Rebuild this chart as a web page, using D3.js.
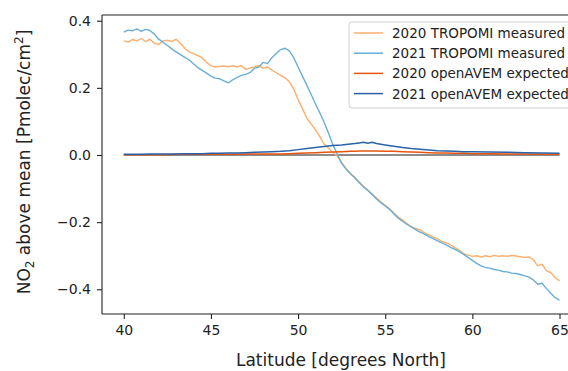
<!DOCTYPE html>
<html>
<head>
<meta charset="utf-8">
<script src="https://cdn.jsdelivr.net/npm/d3@7/dist/d3.min.js"></script>
<style>
  html, body { margin: 0; padding: 0; background: #fff; }
  svg { display: block; font-family: "DejaVu Sans", sans-serif; }
</style>
</head>
<body>
<svg id="chart" width="568" height="371"></svg>
<script>
// ---- data ----
const latFine = d3.range(40, 65.001, 0.25).map(v => +v.toFixed(2));

const tropomi2020 = [
  0.340, 0.336, 0.344, 0.340, 0.347, 0.338, 0.345, 0.333, 0.329, 0.340,
  0.342, 0.338, 0.345, 0.333, 0.318, 0.307, 0.302, 0.296, 0.289, 0.276,
  0.266, 0.262, 0.264, 0.265, 0.263, 0.266, 0.262, 0.266, 0.255, 0.259,
  0.262, 0.266, 0.258, 0.262, 0.253, 0.245, 0.237, 0.230, 0.218, 0.196,
  0.165, 0.138, 0.110, 0.092, 0.075, 0.055, 0.032, 0.020, 0.008, -0.004,
  -0.022, -0.040, -0.055, -0.066, -0.080, -0.093, -0.104, -0.116, -0.128, -0.139,
  -0.150, -0.160, -0.173, -0.185, -0.194, -0.204, -0.214, -0.219, -0.223, -0.232,
  -0.238, -0.244, -0.250, -0.257, -0.262, -0.268, -0.276, -0.284, -0.294, -0.298,
  -0.302, -0.300, -0.304, -0.300, -0.303, -0.299, -0.302, -0.300, -0.302, -0.299,
  -0.301, -0.303, -0.305, -0.304, -0.312, -0.330, -0.325, -0.345, -0.350, -0.365,
  -0.375
];

const tropomi2021 = [
  0.366, 0.372, 0.370, 0.376, 0.368, 0.374, 0.371, 0.360, 0.345, 0.336,
  0.326, 0.316, 0.307, 0.299, 0.291, 0.283, 0.272, 0.260, 0.252, 0.244,
  0.235, 0.229, 0.227, 0.221, 0.215, 0.224, 0.231, 0.237, 0.240, 0.246,
  0.258, 0.262, 0.276, 0.272, 0.290, 0.303, 0.314, 0.318, 0.310, 0.290,
  0.262, 0.235, 0.208, 0.180, 0.152, 0.125, 0.097, 0.065, 0.030, 0.003,
  -0.025, -0.042, -0.056, -0.068, -0.082, -0.095, -0.106, -0.118, -0.131, -0.142,
  -0.152, -0.162, -0.176, -0.188, -0.198, -0.207, -0.214, -0.222, -0.230, -0.236,
  -0.243, -0.249, -0.256, -0.262, -0.268, -0.275, -0.281, -0.288, -0.296, -0.305,
  -0.314, -0.323, -0.330, -0.335, -0.337, -0.341, -0.343, -0.347, -0.348, -0.352,
  -0.353, -0.356, -0.360, -0.364, -0.372, -0.385, -0.382, -0.398, -0.412, -0.425,
  -0.432
];

const latModel = [40, 40.5, 41, 41.5, 42, 42.5, 43, 43.5, 44, 44.5, 45, 45.5, 46, 46.5, 47, 47.5, 48, 48.5,
  49, 49.5, 50, 50.5, 51, 51.5, 52, 52.5, 53, 53.25, 53.5, 53.75, 54, 54.25, 54.5, 55, 55.5, 56, 56.5,
  57, 57.5, 58, 58.5, 59, 59.5, 60, 61, 62, 63, 64, 65];

const openavem2020 = [0.001, 0.001, 0.001, 0.001, 0.001, 0.001, 0.002, 0.002, 0.002, 0.002, 0.002, 0.002,
  0.002, 0.002, 0.003, 0.003, 0.003, 0.003, 0.003, 0.004, 0.005, 0.006, 0.007, 0.008, 0.009, 0.010,
  0.011, 0.011, 0.012, 0.012, 0.012, 0.012, 0.012, 0.011, 0.011, 0.010, 0.009, 0.008, 0.007, 0.006,
  0.006, 0.005, 0.005, 0.004, 0.004, 0.003, 0.003, 0.002, 0.002];

const openavem2021 = [0.002, 0.002, 0.002, 0.003, 0.003, 0.003, 0.003, 0.004, 0.004, 0.004, 0.005, 0.005,
  0.006, 0.006, 0.007, 0.008, 0.009, 0.010, 0.011, 0.013, 0.016, 0.019, 0.022, 0.025, 0.028, 0.030,
  0.033, 0.034, 0.036, 0.038, 0.035, 0.038, 0.034, 0.030, 0.026, 0.022, 0.019, 0.017, 0.015, 0.013,
  0.012, 0.011, 0.010, 0.010, 0.009, 0.008, 0.007, 0.006, 0.005];

const xTicks = [40, 45, 50, 55, 60, 65];
const yTicks = [-0.4, -0.2, 0.0, 0.2, 0.4];
const seriesNames = ["2020 TROPOMI measured", "2021 TROPOMI measured", "2020 openAVEM expected", "2021 openAVEM expected"];
const seriesColors = ["#fdae6b", "#6baed6", "#e6550d", "#2a62a8"];

// ---- chart ----
const svg = d3.select("#chart");
const x = d3.scaleLinear().domain([38.75, 66.25]).range([102, 581.3]);
const y = d3.scaleLinear().domain([-0.4736, 0.417]).range([314, 15]);

const series = [
  { lat: latFine, val: tropomi2020, w: 1.4 },
  { lat: latFine, val: tropomi2021, w: 1.4 },
  { lat: latModel, val: openavem2020, w: 1.5 },
  { lat: latModel, val: openavem2021, w: 1.5 },
];

const clip = svg.append("clipPath").attr("id", "plotclip")
  .append("rect").attr("x", 102).attr("y", 15).attr("width", 480).attr("height", 299);

const plot = svg.append("g").attr("clip-path", "url(#plotclip)");

// zero line
plot.append("line")
  .attr("x1", x(40)).attr("x2", x(65))
  .attr("y1", y(0)).attr("y2", y(0))
  .attr("stroke", "#666").attr("stroke-width", 1.5);

const line = d3.line().x(d => x(d[0])).y(d => y(d[1]));
series.forEach((s, i) => {
  plot.append("path")
    .datum(s.lat.map((l, j) => [l, s.val[j]]))
    .attr("fill", "none")
    .attr("stroke", seriesColors[i])
    .attr("stroke-width", s.w)
    .attr("stroke-linejoin", "round")
    .attr("d", line);
});

// axes
const fmtY = d => (d < 0 ? "\u2212" : "") + Math.abs(d).toFixed(1);
const xAxis = svg.append("g").attr("transform", "translate(0,314)")
  .call(d3.axisBottom(x).tickValues(xTicks).tickSize(5).tickPadding(6).tickFormat(d3.format("d")));
const yAxis = svg.append("g").attr("transform", "translate(102,0)")
  .call(d3.axisLeft(y).tickValues(yTicks).tickSize(5).tickPadding(6).tickFormat(fmtY));

[xAxis, yAxis].forEach(a => {
  a.selectAll("text").attr("font-family", "DejaVu Sans").attr("font-size", 14).attr("fill", "#222");
  a.selectAll("line").attr("stroke", "#222").attr("stroke-width", 1.1);
  a.select(".domain").remove();
});

// spines
svg.append("line").attr("x1", 102).attr("x2", 102).attr("y1", 15).attr("y2", 314)
  .attr("stroke", "#222").attr("stroke-width", 1.1);
svg.append("line").attr("x1", 102).attr("x2", 568).attr("y1", 314).attr("y2", 314)
  .attr("stroke", "#222").attr("stroke-width", 1.1);
svg.append("line").attr("x1", 102).attr("x2", 568).attr("y1", 15).attr("y2", 15)
  .attr("stroke", "#222").attr("stroke-width", 1.1);

// axis labels
svg.append("text")
  .attr("x", 341).attr("y", 366)
  .attr("text-anchor", "middle")
  .attr("font-size", 17).attr("fill", "#222")
  .text("Latitude [degrees North]");

const yl = svg.append("text")
  .attr("transform", "translate(30,162) rotate(-90)")
  .attr("text-anchor", "middle")
  .attr("font-size", 17).attr("fill", "#222");
yl.append("tspan").text("NO");
yl.append("tspan").attr("font-size", 12).attr("dy", 4).text("2");
yl.append("tspan").attr("dy", -4).text(" above mean [Pmolec/cm");
yl.append("tspan").attr("font-size", 12).attr("dy", -7).text("2");
yl.append("tspan").attr("dy", 7).text("]");

// legend
const lg = svg.append("g");
lg.append("rect")
  .attr("x", 349).attr("y", 22).attr("width", 240).attr("height", 86)
  .attr("rx", 3).attr("fill", "#fff").attr("fill-opacity", 0.85)
  .attr("stroke", "#d0d0d0").attr("stroke-width", 1);
seriesNames.forEach((n, i) => {
  const cy = 33 + i * 20.2;
  lg.append("line").attr("x1", 354).attr("x2", 383).attr("y1", cy).attr("y2", cy)
    .attr("stroke", seriesColors[i]).attr("stroke-width", 1.5);
  lg.append("text").attr("x", 392).attr("y", cy + 5)
    .attr("font-size", 13.5).attr("fill", "#222").text(n);
});
</script>
</body>
</html>
